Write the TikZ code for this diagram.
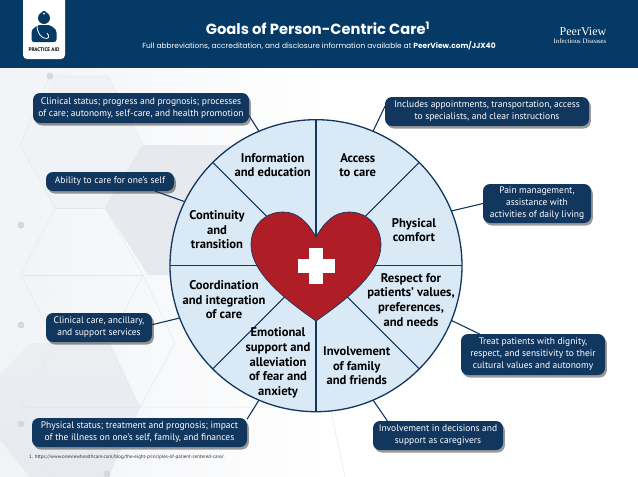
\documentclass[tikz,border=0pt]{standalone}
\usepackage{fontspec}
\usepackage{xcolor}
\setmainfont{PT Sans}
\newfontfamily\titlefont{Poppins}
\newfontfamily\logofont{Liberation Serif}
\usetikzlibrary{shadows}
\definecolor{headblue}{HTML}{053A66}
\definecolor{boxblue}{HTML}{12375F}
\definecolor{wheelblue}{HTML}{D9E9F6}
\definecolor{heartred}{HTML}{AF1E27}
\definecolor{hexgrey}{HTML}{E6E9EE}
\definecolor{hexline}{HTML}{E4E8ED}
\definecolor{dotgrey}{HTML}{D3D9E0}
\tikzset{
  goalbox/.style={draw=none,fill=boxblue,rounded corners=7,text=white,align=center,inner sep=0,outer sep=0,
    font=\fontsize{9.5}{12}\selectfont,
    drop shadow={shadow xshift=1.8pt,shadow yshift=-2.5pt,fill=black,opacity=0.4}},
  goallabel/.style={align=center,text=black,font=\fontsize{12.6}{14.7}\selectfont\bfseries},
  boxlink/.style={draw=boxblue,line width=1.1},
  hexedge/.style={draw=hexline,line width=0.5},
  hexdot/.style={circle,fill=dotgrey,minimum size=7,inner sep=0}
}
\begin{document}
\begin{tikzpicture}[x=1pt,y=-1pt]
\useasboundingbox (0,0) rectangle (638,477);
% === BACKGROUND: hexagons ===
\shade[left color=hexgrey!55,right color=white] (0,68) rectangle (330,477);
\fill[hexgrey!60] (55,76) -- (108,76) -- (143,145) -- (105,208) -- (55,208) -- (20,145) -- cycle;
\fill[hexgrey] (143,145) -- (230,145) -- (230,275) -- (148,275) -- (105,208) -- cycle;
\shade[top color=hexgrey!80,bottom color=hexgrey!95] (30,343) -- (110,343) -- (140,407) -- (108,477) -- (30,477) -- (0,440) -- (0,375) -- cycle;
\fill[hexgrey!50] (0,225) -- (21,225) -- (55,290) -- (21,345) -- (0,345) -- cycle;
\draw[hexedge] (50,76) -- (108,76) -- (143,145) -- (105,208) -- (143,275) -- (108,343) -- (140,407) -- (108,477);
\draw[hexedge] (50,76) -- (20,145) -- (55,208) -- (21,275) -- (55,343) -- (21,407) -- (50,477);
\draw[hexedge] (55,208) -- (105,208);
\draw[hexedge] (21,275) -- (143,275);
\draw[hexedge] (55,343) -- (108,343);
\draw[hexedge] (21,407) -- (140,407);
\draw[hexedge] (140,407) -- (330,407) -- (345,477);
\draw[hexedge] (143,275) -- (175,343) -- (140,407);
\node[hexdot] (dota) at (50,76) {};
\node[hexdot] (dotb) at (21,225) {};
\node[hexdot] (dotc) at (21,325) {};
\node[hexdot] (dotd) at (21,424) {};
\node[hexdot] (dote) at (107,474) {};
% === HEADER ===
\fill[headblue] (0,0) rectangle (638,68);
\node[font=\titlefont\fontsize{14.7}{18}\selectfont\bfseries,text=white] (title) at (318,28.5) {Goals of Person-Centric Care\textsuperscript{1}};
\node[font=\titlefont\fontsize{7.45}{10}\selectfont,text=white] (subtitle) at (319,46) {Full abbreviations, accreditation, and disclosure information available at \textbf{PeerView.com/JJX40}};
\node[font=\logofont\fontsize{12}{12}\selectfont,text=white] (peerview) at (583,32) {PeerView};
\node[font=\logofont\fontsize{6.8}{8}\selectfont,text=white] (infectious) at (580,41.5) {Infectious Diseases};
% === PRACTICE AID BADGE ===
\fill[white,rounded corners=4] (23,-8) rectangle (65,59);
\fill[headblue] (44,18) circle (6);
\fill[headblue] (44,13.5) circle (2.6);
\fill[white] (44,13.5) circle (1);
\fill[headblue,rounded corners=2.5] (31.5,42) -- (31.5,30) -- (38,25) -- (50,25) -- (56.5,30) -- (56.5,42) -- cycle;
\draw[white,line width=0.8] (37,25) .. controls (37,33) and (41,37) .. (44,38) .. controls (49,40) and (50,36) .. (47,33);
\node[font=\fontsize{5.2}{5}\selectfont\bfseries,text=black] (badge) at (44,49.5) {PRACTICE AID};
% === WHEEL ===
\node[circle,draw=boxblue,fill=wheelblue,line width=1.3,minimum size=292,inner sep=0,outer sep=0] (wheel) at (316,265.7) {};
\draw[boxblue,line width=1.1] (wheel.90) -- (wheel.-90);
\draw[boxblue,line width=1.1] (wheel.180) -- (wheel.0);
\draw[boxblue,line width=1.1] (wheel.135) -- (wheel.-45);
\draw[boxblue,line width=1.1] (wheel.45) -- (wheel.-135);
% === HEART ===
\draw[boxblue,line width=0.7,fill=heartred] (316,237) .. controls (307,221) and (297,212) .. (283,212) .. controls (264,212) and (251,227) .. (251,245)
  .. controls (251,274) and (289,302) .. (316,321) .. controls (343,302) and (381,274) .. (381,245)
  .. controls (381,227) and (368,212) .. (349,212) .. controls (335,212) and (325,221) .. (316,237) -- cycle;
\fill[white] (308.7,248) rectangle (323.3,284);
\fill[white] (297.5,259) rectangle (334.5,273);
% === WHEEL LABELS ===
\node[goallabel] (information) at (272.7,165) {Information\\and education};
\node[goallabel] (access) at (357.7,165) {Access\\to care};
\node[goallabel] (physical) at (414,230) {Physical\\comfort};
\node[goallabel] (respect) at (411,299.7) {Respect for\\patients’ values,\\preferences,\\and needs};
\node[goallabel] (involvement) at (356.7,365.7) {Involvement\\of family\\and friends};
\node[goallabel] (emotional) at (278,363) {Emotional\\support and\\alleviation\\of fear and\\anxiety};
\node[goallabel] (coordination) at (224,299.7) {Coordination\\and integration\\of care};
\node[goallabel] (continuity) at (217,229.7) {Continuity\\and\\transition};
% === CALLOUT BOXES ===
\node[goalbox,minimum width=216,minimum height=30] (clinical) at (141,108) {Clinical status; progress and prognosis; processes\\of care; autonomy, self-care, and health promotion};
\node[goalbox,minimum width=204,minimum height=29] (includes) at (487,111.5) {Includes appointments, transportation, access\\to specialists, and clear instructions};
\node[goalbox,minimum width=128,minimum height=19] (ability) at (110,181.5) {Ability to care for one’s self};
\node[goalbox,minimum width=108,minimum height=39] (pain) at (537,203.5) {Pain management,\\assistance with\\activities of daily living};
\node[goalbox,minimum width=106,minimum height=29] (care) at (99,327.5) {Clinical care, ancillary,\\and support services};
\node[goalbox,minimum width=144,minimum height=41] (treat) at (533,354.5) {Treat patients with dignity,\\respect, and sensitivity to their\\cultural values and autonomy};
\node[goalbox,minimum width=215,minimum height=29] (status) at (139.5,432.5) {Physical status; treatment and prognosis; impact\\of the illness on one’s self, family, and finances};
\node[goalbox,minimum width=130,minimum height=29] (decisions) at (438,435.5) {Involvement in decisions and\\support as caregivers};
% === CONNECTORS ===
\draw[boxlink] (clinical.-4) -- (wheel.113);
\draw[boxlink] (includes.177.5) -- (wheel.67);
\draw[boxlink] (ability.-12) -- (wheel.154.7);
\draw[boxlink] (pain.west) -- (wheel.22);
\draw[boxlink] (care.3) -- (wheel.-159);
\draw[boxlink] (treat.159) -- (wheel.-22);
\draw[boxlink] (status.7) -- (wheel.-113);
\draw[boxlink] (decisions.164) -- (wheel.-67);
% === FOOTNOTE ===
\node[right,inner sep=0,font=\fontsize{5}{5}\selectfont,text=black!80] (footnote) at (29,457) {1. https://www.oneviewhealthcare.com/blog/the-eight-principles-of-patient-centered-care/.};
\end{tikzpicture}
\end{document}
